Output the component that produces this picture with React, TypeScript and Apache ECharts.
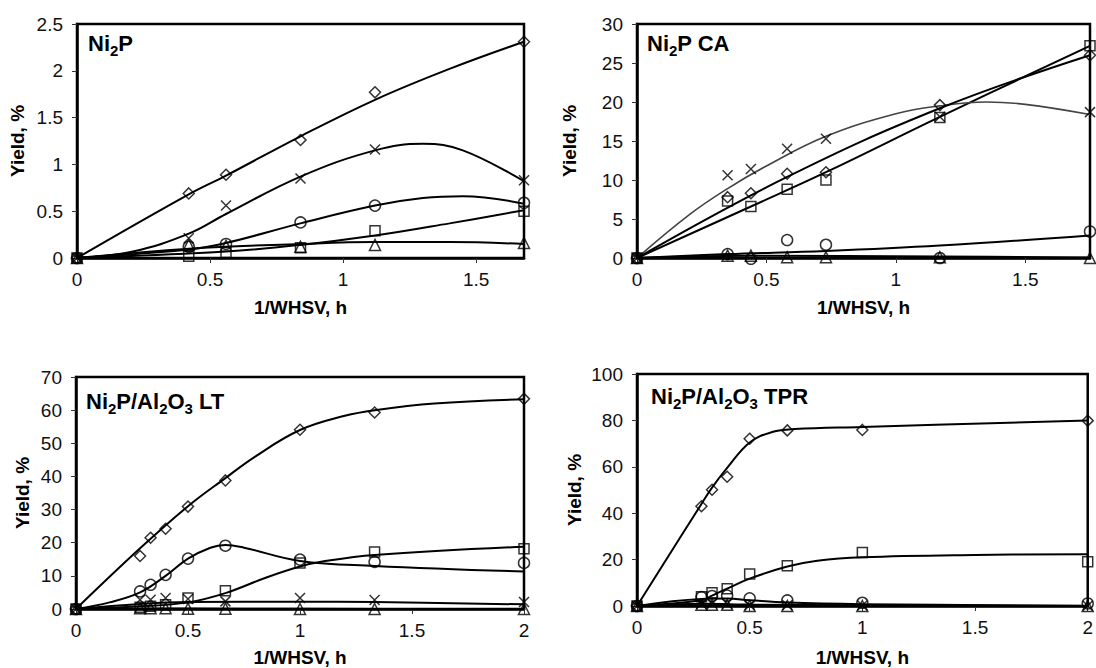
import React, { useEffect, useRef } from "react";
import * as echarts from "echarts";

const FONT = "'Liberation Sans', Arial, Helvetica, sans-serif";

// ---------- Panel 1: Ni2P ----------
const p1X = [0, 0.42, 0.56, 0.84, 1.12, 1.68];
const p1Diamond = [0, 0.69, 0.89, 1.26, 1.77, 2.31];
const p1Cross = [0, 0.21, 0.56, 0.85, 1.16, 0.83];
const p1Circle = [0, 0.12, 0.15, 0.38, 0.56, 0.59];
const p1Square = [0, 0.02, 0.06, 0.11, 0.29, 0.5];
const p1Triangle = [0, 0.14, 0.13, 0.12, 0.14, 0.16];
const p1FitDiamond = [[0, 0], [0.42, 0.68], [0.56, 0.88], [0.84, 1.3], [1.12, 1.69], [1.4, 2.02], [1.68, 2.31]];
const p1FitCross = [[0, 0], [0.21, 0.07], [0.42, 0.26], [0.56, 0.47], [0.84, 0.87], [1.12, 1.15], [1.3, 1.22], [1.45, 1.15], [1.68, 0.82]];
const p1FitCircle = [[0, 0], [0.42, 0.09], [0.56, 0.16], [0.84, 0.37], [1.12, 0.56], [1.3, 0.64], [1.45, 0.66], [1.68, 0.58]];
const p1FitSquare = [[0, 0], [0.56, 0.07], [0.84, 0.14], [1.12, 0.24], [1.4, 0.37], [1.68, 0.51]];
const p1FitTriangle = [[0, 0], [0.42, 0.1], [0.84, 0.15], [1.12, 0.17], [1.4, 0.17], [1.68, 0.15]];

// ---------- Panel 2: Ni2P CA ----------
const p2X = [0, 0.35, 0.44, 0.58, 0.73, 1.17, 1.75];
const p2Diamond = [0, 7.8, 8.3, 10.8, 11.0, 19.6, 26.0];
const p2Cross = [0, 10.6, 11.4, 14.0, 15.3, 18.1, 18.7];
const p2Circle = [0, 0.5, -0.1, 2.3, 1.7, 0, 3.4];
const p2Square = [0, 7.3, 6.6, 8.8, 10.0, 18.0, 27.2];
const p2Triangle = [0, 0.3, 0.3, 0.1, 0.1, 0.1, 0];
const p2FitDiamond = [[0, 0], [0.58, 10.4], [1.17, 19.2], [1.75, 26.0]];
const p2FitCross = [[0, 0], [0.2, 5.5], [0.35, 8.9], [0.5, 11.8], [0.73, 15.6], [1.0, 18.5], [1.17, 19.5], [1.35, 20.0], [1.5, 19.7], [1.75, 18.4]];
const p2FitCircle = [[0, 0], [0.35, 0.5], [0.73, 0.9], [1.17, 1.6], [1.75, 2.9]];
const p2FitSquare = [[0, 0], [0.44, 6.6], [0.73, 11.0], [1.17, 18.1], [1.75, 27.2]];
const p2FitTriangle = [[0, 0], [0.44, 0.3], [1.17, 0.2], [1.75, 0.05]];

// ---------- Panel 3: Ni2P/Al2O3 LT ----------
const p3X = [0, 0.286, 0.333, 0.4, 0.5, 0.667, 1, 1.333, 2];
const p3Diamond = [0, 16.0, 21.5, 24.2, 30.9, 38.8, 54.1, 59.3, 63.4];
const p3Cross = [0, 2.8, 2.8, 3.3, 3.0, 2.3, 3.3, 2.7, 2.1];
const p3Circle = [0, 5.3, 7.3, 10.3, 15.2, 19.1, 14.9, 14.2, 13.9];
const p3Square = [0, 0.5, 0.8, 1.3, 3.3, 5.5, 13.9, 17.2, 18.2];
const p3Triangle = [0, 0.2, 0.2, 0.2, 0.1, 0.1, 0, 0, 0];
const p3FitDiamond = [[0, 0], [0.286, 18.3], [0.5, 31], [0.667, 39.5], [0.8, 46], [1.0, 54], [1.2, 58.3], [1.333, 60], [1.6, 62], [2, 63.3]];
const p3FitCross = [[0, 0], [0.286, 1.5], [0.5, 2.1], [1.0, 2.2], [1.333, 2.1], [2, 1.4]];
const p3FitCircle = [[0, 0], [0.15, 2], [0.286, 5], [0.4, 10], [0.5, 15.2], [0.6, 18.5], [0.667, 19.3], [0.75, 18.5], [1.0, 14.5], [1.333, 13], [2, 11.3]];
const p3FitSquare = [[0, 0], [0.286, 0.8], [0.5, 2], [0.667, 4.8], [0.85, 9.5], [1.0, 12.8], [1.1, 14.3], [1.333, 16.3], [2, 18.8]];
const p3FitTriangle = [[0, 0], [0.5, 0.15], [1, 0.05], [2, 0]];

// ---------- Panel 4: Ni2P/Al2O3 TPR ----------
const p4X = [0, 0.286, 0.333, 0.4, 0.5, 0.667, 1, 2];
const p4Diamond = [0, 43.0, 50.1, 55.7, 72.1, 75.7, 75.9, 79.9];
const p4Cross = [0, 1.0, 1.2, 1.0, 0.3, 0.3, 0.2, 0.1];
const p4Circle = [0, 3.8, 4.3, 4.5, 3.3, 2.4, 1.4, 1.1];
const p4Square = [0, 4.0, 5.7, 7.4, 13.8, 17.4, 23.1, 19.1];
const p4Triangle = [0, 0.5, 0.5, 0.5, 0, 0, 0, 0];
const p4FitDiamond = [[0, 0], [0.286, 44], [0.333, 51], [0.4, 59.5], [0.5, 70.5], [0.6, 75], [0.7, 76.3], [1, 77.2], [2, 80]];
const p4FitCross = [[0, 0], [0.3, 1], [0.5, 0.6], [1, 0.3], [2, 0]];
const p4FitCircle = [[0, 0], [0.286, 3], [0.4, 3.2], [0.5, 2.5], [0.667, 1.5], [1, 0.8], [2, 0]];
const p4FitSquare = [[0, 0], [0.286, 2.5], [0.333, 4.5], [0.4, 7.5], [0.5, 11.8], [0.667, 17], [0.8, 19.5], [1, 21], [1.5, 22], [2, 22.3]];
const p4FitTriangle = [[0, 0], [0.4, 0.3], [1, 0], [2, 0]];

const SYMBOLS: Record<string, { symbol: string; size: number }> = {
  diamond: { symbol: "diamond", size: 11 },
  cross: { symbol: "path://M0,0L10,10M10,0L0,10", size: 10 },
  circle: { symbol: "circle", size: 11 },
  square: { symbol: "rect", size: 10 },
  triangle: { symbol: "triangle", size: 11 },
};

const panels = [
  {
    grid: { left: 77, top: 24, width: 447, height: 234 },
    xMax: 1.68, yMax: 2.5, yInt: 0.5, yNameGap: 50, xNameGap: 40,
    title: "{a|Ni}{s|2}{a|P}", titleX: 88, titleY: 29,
    x: p1X,
    pts: { diamond: p1Diamond, cross: p1Cross, circle: p1Circle, square: p1Square, triangle: p1Triangle },
    fits: { diamond: p1FitDiamond, cross: p1FitCross, circle: p1FitCircle, square: p1FitSquare, triangle: p1FitTriangle },
    crossColor: "#000",
  },
  {
    grid: { left: 637, top: 24, width: 453, height: 234 },
    xMax: 1.75, yMax: 30, yInt: 5, yNameGap: 58, xNameGap: 40,
    title: "{a|Ni}{s|2}{a|P CA}", titleX: 647, titleY: 29,
    x: p2X,
    pts: { diamond: p2Diamond, cross: p2Cross, circle: p2Circle, square: p2Square, triangle: p2Triangle },
    fits: { diamond: p2FitDiamond, cross: p2FitCross, circle: p2FitCircle, square: p2FitSquare, triangle: p2FitTriangle },
    crossColor: "#444",
  },
  {
    grid: { left: 76, top: 377, width: 448, height: 235 },
    xMax: 2, yMax: 70, yInt: 10, yNameGap: 44, xNameGap: 39,
    title: "{a|Ni}{s|2}{a|P/Al}{s|2}{a|O}{s|3}{a| LT}", titleX: 86, titleY: 387,
    x: p3X,
    pts: { diamond: p3Diamond, cross: p3Cross, circle: p3Circle, square: p3Square, triangle: p3Triangle },
    fits: { diamond: p3FitDiamond, cross: p3FitCross, circle: p3FitCircle, square: p3FitSquare, triangle: p3FitTriangle },
    crossColor: "#000",
  },
  {
    grid: { left: 637, top: 374, width: 455, height: 235 },
    xMax: 2, yMax: 100, yInt: 20, yNameGap: 53, xNameGap: 42,
    title: "{a|Ni}{s|2}{a|P/Al}{s|2}{a|O}{s|3}{a| TPR}", titleX: 651, titleY: 382,
    x: p4X,
    pts: { diamond: p4Diamond, cross: p4Cross, circle: p4Circle, square: p4Square, triangle: p4Triangle },
    fits: { diamond: p4FitDiamond, cross: p4FitCross, circle: p4FitCircle, square: p4FitSquare, triangle: p4FitTriangle },
    crossColor: "#000",
  },
];

function buildOption() {
  const grids: any[] = [];
  const xAxes: any[] = [];
  const yAxes: any[] = [];
  const series: any[] = [];
  const graphics: any[] = [];

  panels.forEach((p, i) => {
    grids.push({
      ...p.grid,
      show: true,
      borderColor: "#000",
      borderWidth: 2.5,
      backgroundColor: "transparent",
      containLabel: false,
    });
    xAxes.push({
      type: "value",
      gridIndex: i,
      min: 0,
      max: p.xMax,
      interval: 0.5,
      name: "1/WHSV, h",
      nameLocation: "middle",
      nameGap: p.xNameGap,
      nameTextStyle: { fontFamily: FONT, fontSize: 19, fontWeight: "bold", color: "#000" },
      axisLine: { show: true, onZero: false, lineStyle: { color: "#000", width: 2.5 } },
      axisTick: { show: true, inside: false, length: 5, lineStyle: { color: "#333", width: 1 } },
      axisLabel: { fontFamily: FONT, fontSize: 19, color: "#111", margin: 12, showMaxLabel: p.xMax === 2 },
      splitLine: { show: false },
    });
    yAxes.push({
      type: "value",
      gridIndex: i,
      min: 0,
      max: p.yMax,
      interval: p.yInt,
      name: "Yield, %",
      nameLocation: "middle",
      nameGap: p.yNameGap,
      nameTextStyle: { fontFamily: FONT, fontSize: 19, fontWeight: "bold", color: "#000" },
      axisLine: { show: true, onZero: false, lineStyle: { color: "#000", width: 2.5 } },
      axisTick: { show: true, inside: false, length: 5, lineStyle: { color: "#333", width: 1 } },
      axisLabel: { fontFamily: FONT, fontSize: 19, color: "#111", margin: 14 },
      splitLine: { show: false },
    });

    const keys = ["triangle", "square", "circle", "cross", "diamond"];
    keys.forEach((k) => {
      const fit = (p.fits as any)[k] as number[][];
      const isCross = k === "cross";
      series.push({
        type: "line",
        xAxisIndex: i,
        yAxisIndex: i,
        data: fit,
        smooth: 0.4,
        showSymbol: false,
        silent: true,
        lineStyle: {
          color: isCross ? p.crossColor : "#000",
          width: isCross && p.crossColor !== "#000" ? 1.6 : 2,
        },
        z: 2,
      });
    });
    keys.forEach((k) => {
      const ys = (p.pts as any)[k] as number[];
      const sym = SYMBOLS[k];
      series.push({
        type: "scatter",
        xAxisIndex: i,
        yAxisIndex: i,
        data: p.x.map((xv, j) => [xv, ys[j]]),
        symbol: sym.symbol,
        symbolSize: sym.size,
        itemStyle: { color: "rgba(255,255,255,0)", borderColor: "#000", borderWidth: 1.5 },
        silent: true,
        clip: false,
        z: 3,
      });
    });

    graphics.push({
      type: "text",
      left: p.titleX,
      top: p.titleY,
      z: 10,
      style: {
        text: p.title,
        fill: "#000",
        rich: {
          a: { fontFamily: FONT, fontSize: 22, fontWeight: "bold", lineHeight: 25, verticalAlign: "middle", fill: "#000" },
          s: { fontFamily: FONT, fontSize: 15, fontWeight: "bold", lineHeight: 15, padding: [14, 0, 0, 0], verticalAlign: "middle", fill: "#000" },
        },
      },
    });
  });

  return {
    animation: false,
    backgroundColor: "#fff",
    textStyle: { fontFamily: FONT },
    grid: grids,
    xAxis: xAxes,
    yAxis: yAxes,
    series,
    graphic: graphics,
  };
}

export default function App() {
  const ref = useRef<HTMLDivElement>(null);
  useEffect(() => {
    if (!ref.current) return;
    const chart = echarts.init(ref.current, undefined, { renderer: "svg" });
    chart.setOption(buildOption() as any);
    return () => chart.dispose();
  }, []);
  return (
    <div
      ref={ref}
      style={{ position: "fixed", left: 0, top: 0, width: 1096, height: 668, background: "#fff" }}
    />
  );
}
